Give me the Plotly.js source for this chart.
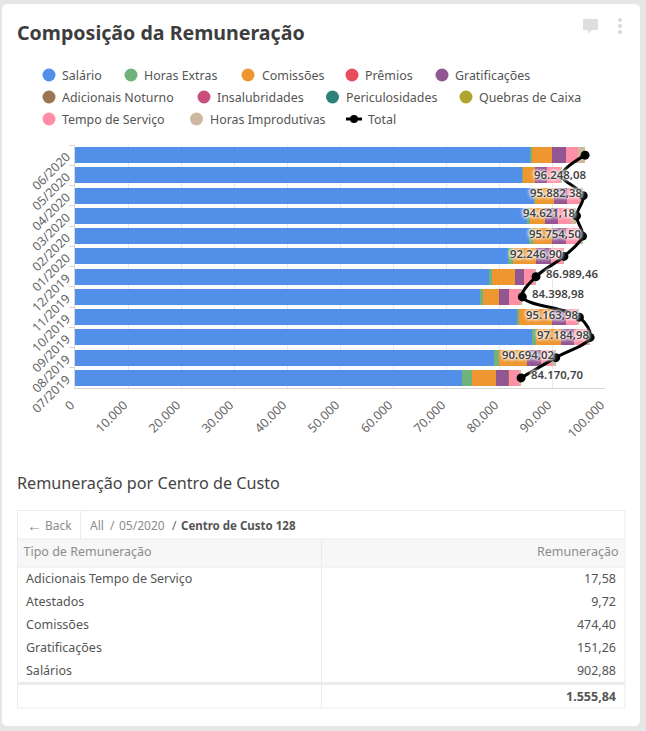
<!DOCTYPE html>
<html><head><meta charset="utf-8">
<script src="https://cdn.plot.ly/plotly-3.0.1.min.js"></script>
<style>html,body{margin:0;padding:0;background:#e6e6e8}#c{width:646px;height:731px}</style>
</head><body><div id="c"></div>
<script>
const categories = ['06/2020','05/2020','04/2020','03/2020','02/2020','01/2020','12/2019','11/2019','10/2019','09/2019','08/2019','07/2019'];
const salario      = [85849,84340,86790,85340,85720,81700,78110,76415,83400,86170,79060,73020];
const horasExtras  = [320,250,50,450,700,890,570,620,380,810,1000,1830];
const comissoes    = [3830,2200,3585,2890,3585,4300,4340,2960,6280,4660,5280,4580];
const premios      = [0,0,0,0,0,0,0,0,0,0,0,0];
const gratificacoes= [2640,2320,2450,2450,2640,2830,1700,1890,2530,2510,2530,2320];
const adicNoturno  = [0,0,0,0,0,0,0,0,0,0,0,190];
const insalubridades=[0,0,0,0,0,0,0,0,0,0,0,0];
const periculosidades=[0,0,0,0,0,0,0,0,0,0,0,0];
const quebras      = [0,0,0,0,0,0,0,0,0,0,0,0];
const tempoServico = [2264,2400,2450,2450,2500,2500,2010,2210,2190,2700,2080,1770];
const horasImprod  = [1345,350,557,1041,610,27,259,304,384,335,744,460];
const total        = [96248.08,91860,95882.38,94621.18,95754.50,92246.90,86989.46,84398.98,95163.98,97184.98,90694.02,84170.70];
const seriesNames  = ['Salário','Horas Extras','Comissões','Prêmios','Gratificações','Adicionais Noturno','Insalubridades','Periculosidades','Quebras de Caixa','Tempo de Serviço','Horas Improdutivas'];
const seriesColors = ['#528fe8','#6fb27c','#ee962f','#e84d5b','#925692','#9c7650','#c94f7c','#2e8378','#aea62e','#ff8fa6','#cdb99f'];
const seriesValues = [salario,horasExtras,comissoes,premios,gratificacoes,adicNoturno,insalubridades,periculosidades,quebras,tempoServico,horasImprod];
const tipos  = ['Adicionais Tempo de Serviço','Atestados','Comissões','Gratificações','Salários'];
const valores= ['17,58','9,72','474,40','151,26','902,88'];
const totalTabela = '1.555,84';
const xTicks = [0,10000,20000,30000,40000,50000,60000,70000,80000,90000,100000];
const xTickText = ['0','10.000','20.000','30.000','40.000','50.000','60.000','70.000','80.000','90.000','100.000'];

const W=646,H=731,F='"Noto Sans", sans-serif';
const X=p=>p/W, Y=p=>1-p/H;
const fmt=v=>{const [a,b]=v.toFixed(2).split('.');return a.replace(/\B(?=(\d{3})+$)/g,'.')+','+b;};
const clear={fill:{color:'rgba(0,0,0,0)'},line:{width:0,color:'rgba(0,0,0,0)'}};

const traces = seriesNames.map((n,i)=>({type:'bar',orientation:'h',name:n,y:categories,x:seriesValues[i],
  marker:{color:seriesColors[i],line:{width:0}},hoverinfo:'x+name'}));
traces.push({type:'scatter',mode:'lines+markers',name:'Total',y:categories,x:total,
  line:{color:'#000',width:3,shape:'spline',smoothing:1},marker:{color:'#000',size:9},cliponaxis:false});
traces.push({type:'table',domain:{x:[X(15.5),X(627)],y:[Y(567),Y(539)]},columnwidth:[303,304],
  header:Object.assign({values:['Tipo de Remuneração','Remuneração'],align:['left','right'],height:28,
    font:{family:F,size:12.5,color:'#8c8c8c'}},clear),
  cells:Object.assign({values:[[],[]],height:1},clear)});
traces.push({type:'table',domain:{x:[X(18),X(624)],y:[Y(684),Y(565)]},columnwidth:[303,303],
  header:Object.assign({values:['',''],height:1},clear),
  cells:Object.assign({values:[tipos,valores],align:['left','right'],height:23,
    font:{family:F,size:12.5,color:'#555'}},clear)});
traces.push({type:'table',domain:{x:[X(18),X(624)],y:[Y(704),Y(679)]},columnwidth:[303,303],
  header:Object.assign({values:['',''],height:1},clear),
  cells:Object.assign({values:[[''],['<b>'+totalTabela+'</b>']],align:['left','right'],height:23,
    font:{family:F,size:12.5,color:'#555'}},clear)});

const rect=(x0,y0,x1,y1,fill,line)=>({type:'rect',xref:'paper',yref:'paper',x0:X(x0),x1:X(x1),y0:Y(y0),y1:Y(y1),
  fillcolor:fill||'rgba(0,0,0,0)',line:line?{color:line,width:1}:{width:0},layer:'below'});
const hline=(x0,x1,y,c,w)=>({type:'line',xref:'paper',yref:'paper',x0:X(x0),x1:X(x1),y0:Y(y),y1:Y(y),line:{color:c,width:w||1},layer:'below'});
const vline=(x,y0,y1,c)=>({type:'line',xref:'paper',yref:'paper',x0:X(x),x1:X(x),y0:Y(y0),y1:Y(y1),line:{color:c,width:1},layer:'below'});
const card=()=>{const l=X(2),r=X(640),t=Y(4),b=Y(726),rx=6/W,ry=6/H;
  return {type:'path',xref:'paper',yref:'paper',layer:'below',fillcolor:'#fff',line:{width:0},
  path:`M${l+rx},${t} L${r-rx},${t} Q${r},${t} ${r},${t-ry} L${r},${b+ry} Q${r},${b} ${r-rx},${b} L${l+rx},${b} Q${l},${b} ${l},${b+ry} L${l},${t-ry} Q${l},${t} ${l+rx},${t} Z`};};
const pathPx=(pts,fill)=>({type:'path',xref:'paper',yref:'paper',layer:'below',fillcolor:fill,line:{width:0},
  path:'M'+pts.map(p=>X(p[0])+','+Y(p[1])).join(' L')+' Z'});
const circle=(cx,cy,r,c)=>({type:'circle',xref:'paper',yref:'paper',x0:X(cx-r),x1:X(cx+r),y0:Y(cy-r),y1:Y(cy+r),fillcolor:c,line:{width:0},layer:'below'});

const legendPos=[[49,75,61],[131,75,143],[248,75,261],[352,75,364],[442,75,454],[49,97,61],[204,97,216],[332.5,97,345],[466,97,478],[49,119,61],[196.5,119,208.5]];

const shapes=[card(),
  pathPx([[583,19],[598,19],[598,30],[592,30],[588,34],[588,30],[583,30]],'#dedede'),
  circle(620,20,2,'#d8d8d8'),circle(620,26,2,'#d8d8d8'),circle(620,32,2,'#d8d8d8'),
  ...legendPos.map((p,i)=>circle(p[0],p[1],6.5,seriesColors[i])),
  hline(346,362,119,'#000',3),circle(354,119,4,'#000'),
  rect(17.5,510.5,625,708,'#fff','#ebebeb'),
  rect(18,539,625,567,'#f7f7f7'),
  hline(18,625,539,'#ebebeb'),hline(18,625,567,'#ebebeb'),hline(18,625,683.5,'#ebebeb',3),
  vline(80.5,511,539,'#ebebeb'),vline(321.5,539,708,'#ebebeb')
];

const txt=(x,y,t,size,color,extra)=>Object.assign({xref:'paper',yref:'paper',x:X(x),y:Y(y),text:t,showarrow:false,
  xanchor:'left',yanchor:'middle',font:{family:F,size:size,color:color},borderpad:0},extra||{});
const annotations=[
  txt(16,32,'<b>Composição da Remuneração</b>',19.6,'#3d3d3d'),
  txt(16,483,'Remuneração por Centro de Custo',16.2,'#444'),
  txt(26,524.5,'←',15,'#8c8c8c'),txt(44,525,'Back',12,'#8c8c8c'),
  txt(89,525,'All',12,'#8c8c8c'),txt(109,525,'/',12,'#8c8c8c'),txt(118,525,'05/2020',12,'#8c8c8c'),txt(171,525,'/',12,'#666'),
  txt(180,525,'<b>Centro de Custo 128</b>',11.5,'#555'),
  ...legendPos.map((p,i)=>txt(p[2],p[1],seriesNames[i],12.4,'#555')),
  txt(367,119,'Total',12.4,'#555')
];
const rightSide=[6,7,11];
total.forEach((v,i)=>{ if(i===1) return;
  const right=rightSide.includes(i);
  annotations.push({xref:'x',yref:'y',x:v,y:i===0?categories[1]:categories[i],text:fmt(v),showarrow:false,
    xanchor:right?'left':'right',yanchor:'middle',xshift:right?9:(i===0?2:-0.5),yshift:i===0?1:3,borderpad:0,
    font:{family:F,size:11.4,color:'#444',weight:600,shadow:'0 0 3px #fff, 0 0 3px #fff, 0 0 4px #fff, 0 0 5px #fff'}});
});

const layout={width:W,height:H,margin:{l:0,r:0,t:0,b:0},paper_bgcolor:'#e6e6e8',plot_bgcolor:'rgba(0,0,0,0)',
  barmode:'stack',bargap:0.21,showlegend:false,font:{family:F},
  xaxis:{domain:[X(75),X(605)],range:[0,100000],tickmode:'array',tickvals:xTicks,ticktext:xTickText,tickangle:-45,
    showgrid:true,gridcolor:'#e8e8e8',gridwidth:1,zeroline:false,showline:true,linecolor:'#d8d8d8',ticks:'',
    ticklabelstandoff:4,ticklabelshift:-4,tickfont:{family:F,size:12.4,color:'#666'}},
  yaxis:{domain:[Y(388),Y(145)],type:'category',range:[11.5,-0.5],tickangle:-45,showgrid:false,zeroline:false,
    showline:true,linecolor:'#d8d8d8',ticks:'outside',tickson:'boundaries',ticklen:5,tickcolor:'#d8d8d8',
    ticklabelstandoff:5,tickfont:{family:F,size:12.4,color:'#666'}},
  shapes,annotations};
Plotly.newPlot('c',traces,layout,{displayModeBar:false,responsive:false});
</script></body></html>
